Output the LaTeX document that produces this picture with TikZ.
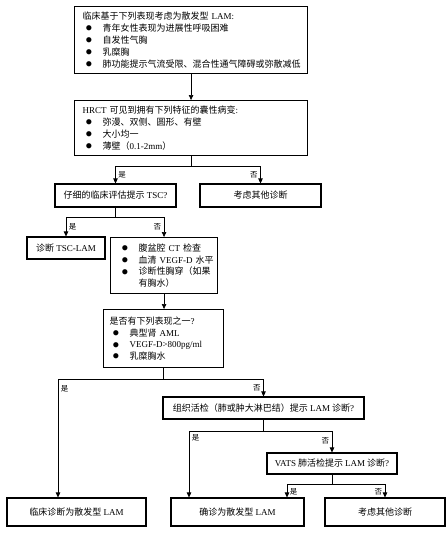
\documentclass[tikz,border=0pt]{standalone}
\usepackage{fontspec}
\setmainfont{Noto Sans CJK SC}
\newfontfamily\lat{Liberation Serif}
\newcommand\en[1]{{\lat #1}}
\newcommand\itm[1]{\mbox{\hspace*{3pt}\makebox[17pt][l]{\raisebox{-0.3pt}{\scalebox{1.45}{$\bullet$}}}#1}}
\usetikzlibrary{arrows.meta}

\begin{document}
\begin{tikzpicture}[x=1pt,y=-1pt,
    box/.style={draw, line width=1.1pt, font=\fontsize{9}{11.8}\selectfont, inner ysep=2pt},
    listbox/.style={box, anchor=north west, align=left},
    conn/.style={line width=0.7pt},
    arr/.style={conn, -{Triangle[length=5pt,width=4.5pt]}},
    lbl/.style={font=\fontsize{7.5}{8}\selectfont, inner sep=2.5pt}]
    \useasboundingbox (0,0) rectangle (447,536);

    % Boxes with bullet lists
    \node[listbox, minimum width=233pt, minimum height=67pt, text width=217pt, inner xsep=8pt] (clin) at (74,6)
        {临床基于下列表现考虑为散发型 \en{LAM:}\\
         \itm{青年女性表现为进展性呼吸困难}\\
         \itm{自发性气胸}\\
         \itm{乳糜胸}\\
         \itm{肺功能提示气流受限、混合性通气障碍或弥散减低}};
    \node[listbox, minimum width=233pt, minimum height=55pt, text width=217pt, inner xsep=8pt] (hrct) at (74,100)
        {\mbox{\en{HRCT} 可见到拥有下列特征的囊性病变\en{:}}\\
         \itm{弥漫、双侧、圆形、有壁}\\
         \itm{大小均一}\\
         \itm{薄壁（\en{0.1-2mm}）}};
    \node[listbox, minimum width=107pt, minimum height=56pt, text width=91pt, inner xsep=8pt] (tests) at (110,237)
        {\itm{腹盆腔 \en{CT} 检查}\\
         \itm{血清 \en{VEGF-D} 水平}\\
         \itm{诊断性胸穿（如果}\\
         \hspace*{20pt}有胸水）};
    \node[listbox, minimum width=120pt, minimum height=58pt, text width=108pt, inner xsep=6pt] (feat) at (103,309)
        {是否有下列表现之一\en{?}\\
         \itm{典型肾 \en{AML}}\\
         \itm{\en{VEGF-D>800pg/ml}}\\
         \itm{乳糜胸水}};

    % Single line boxes
    \node[box, minimum width=121pt, minimum height=23pt] (tsc) at (115.5,195.5) {仔细的临床评估提示 \en{TSC?}};
    \node[box, minimum width=121pt, minimum height=23pt] (other1) at (260.5,195.5) {考虑其他诊断};
    \node[box, minimum width=78pt, minimum height=22pt] (tsclam) at (66,248) {诊断 \en{TSC-LAM}};
    \node[box, minimum width=201pt, minimum height=22pt] (biopsy) at (263.5,408) {组织活检（肺或肿大淋巴结）提示 \en{LAM} 诊断\en{?}};
    \node[box, minimum width=130pt, minimum height=21pt] (vats) at (332,463.5) {\en{VATS} 肺活检提示 \en{LAM} 诊断\en{?}};
    \node[box, minimum width=139pt, minimum height=28pt] (clindx) at (76.5,512) {临床诊断为散发型 \en{LAM}};
    \node[box, minimum width=133pt, minimum height=28pt] (confirm) at (237.5,512) {确诊为散发型 \en{LAM}};
    \node[box, minimum width=120pt, minimum height=28pt] (other2) at (385,512) {考虑其他诊断};

    % Connectors
    \draw[arr] (clin.south) -- (hrct.north);

    \draw[conn] (hrct.south) -- ++(0,10) coordinate (j1);
    \draw[arr] (j1) -| node[lbl, pos=0.76, right] {是} (tsc.north);
    \draw[arr] (j1) -| node[lbl, pos=0.76, left] {否} (other1.north);

    \draw[conn] (tsc.south) -- ++(0,10) coordinate (j2);
    \draw[arr] (j2) -| node[lbl, pos=0.75, right] {是} (tsclam.north);
    \draw[arr] (j2) -| node[lbl, pos=0.75, left] {否} (tests.north);

    \draw[arr] (tests.south) -- (tests.south |- feat.north);

    \draw[conn] (feat.south) -- ++(0,11) coordinate (j3);
    \draw[arr] (j3) -| node[lbl, pos=0.54, right] {是} ([xshift=-18.5pt]clindx.north);
    \draw[arr] (j3) -| node[lbl, pos=0.75, left] {否} (biopsy.north);

    \draw[conn] (biopsy.south) -- ++(0,12) coordinate (j4);
    \draw[arr] (j4) -| node[lbl, pos=0.55, right] {是} ([xshift=-48.5pt]confirm.north);
    \draw[arr] (j4) -| node[lbl, pos=0.73, left] {否} (vats.north);

    \draw[conn] (vats.south) -- ++(0,10) coordinate (j5);
    \draw[arr] (j5) -| node[lbl, pos=0.78, right] {是} ([xshift=49.5pt]confirm.north);
    \draw[arr] (j5) -| node[lbl, pos=0.78, left] {否} (other2.north);
\end{tikzpicture}
\end{document}
